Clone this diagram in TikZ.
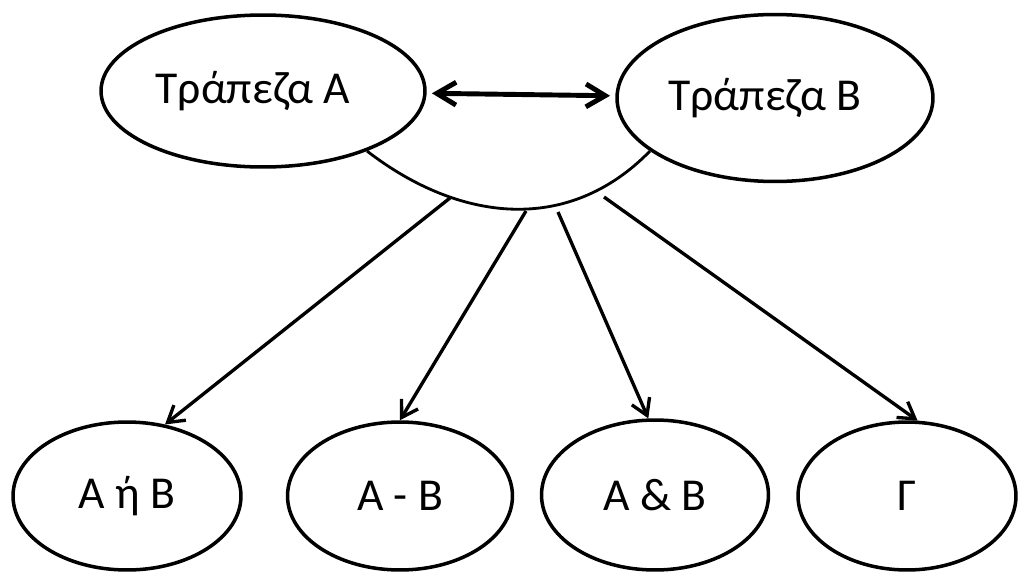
\documentclass[tikz,border=0pt]{standalone}
\usepackage{fontspec}
\setmainfont{Carlito}
\usetikzlibrary{arrows.meta,shapes.geometric}
\tikzstyle{bank} = [draw, ellipse, line width=2pt, inner sep=0pt]
\tikzstyle{joinarc} = [line width=1.6pt]
\tikzstyle{diredge} = [line width=1.9pt, -{Straight Barb[length=9pt,width=11pt]}]
\tikzstyle{bothedge} = [line width=2.8pt, {Straight Barb[length=11pt,width=13pt]}-{Straight Barb[length=11pt,width=13pt]}]

\begin{document}
\begin{tikzpicture}[x=0.02cm,y=-0.02cm,every node/.style={font=\fontsize{26}{30}\selectfont}]
    \useasboundingbox (0,0) rectangle (1019,572);
    \node[bank, minimum width=6.48cm, minimum height=3.04cm] (bankA) at (263,91) {Τράπεζα Α\kern0.4cm};
    \node[bank, minimum width=6.32cm, minimum height=3.34cm] (bankB) at (775,98) {Τράπεζα Β\kern0.4cm};
    \draw[bothedge, shorten <=3pt, shorten >=3pt] (bankA) -- (bankB);
    \draw[joinarc] (bankA.-30) .. controls (459,222) and (568,235) .. (bankB.-157);
    \node[bank, minimum width=4.56cm, minimum height=2.96cm] (orAB) at (127,496) {Α ή Β};
    \node[bank, minimum width=4.5cm, minimum height=2.96cm] (minusAB) at (400,496) {Α - Β};
    \node[bank, minimum width=4.54cm, minimum height=3cm] (andAB) at (655,495) {Α \& Β};
    \node[bank, minimum width=4.36cm, minimum height=2.96cm] (gammaC) at (907,496) {Γ};
    \coordinate (s1) at (450,198);
    \coordinate (s2) at (526,211);
    \coordinate (s3) at (558,212);
    \coordinate (s4) at (604,197);
    \foreach \s/\t in {s1/orAB.62,s2/minusAB.north,s3/andAB.95,s4/gammaC.82}{
        \draw[diredge] (\s) -- (\t);
    }
\end{tikzpicture}
\end{document}
